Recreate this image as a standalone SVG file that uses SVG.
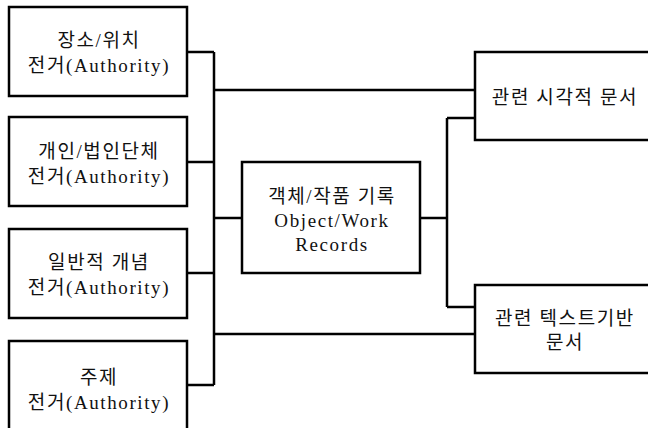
<svg xmlns="http://www.w3.org/2000/svg" width="648" height="428" viewBox="0 0 648 428">
<style>
.box{fill:#fff;stroke:#000;stroke-width:2.5}
.ln{fill:none;stroke:#000;stroke-width:2.5}
text{font-family:"Liberation Serif","Noto Sans CJK KR",serif;font-size:19px;fill:#111;text-anchor:middle;letter-spacing:1.6px}
</style>
<rect width="648" height="428" fill="#fff"/>
<g id="connectors">
<path class="ln" d="M187,52 H214 M187,162 H214 M187,273 H214 M187,385 H214 M214,52 V385"/>
<path class="ln" d="M214,90 H475 M214,334 H475"/>
<path class="ln" d="M214,218 H242 M420,218 H447 M447,118 V307 M447,118 H475 M447,307 H475"/>
</g>
<g id="n1"><rect class="box" x="9" y="7" width="178" height="89"/>
<text x="99" y="47">장소/위치</text><text x="99" y="72">전거(Authority)</text></g>
<g id="n2"><rect class="box" x="9" y="117" width="178" height="89"/>
<text x="99" y="158">개인/법인단체</text><text x="99" y="183">전거(Authority)</text></g>
<g id="n3"><rect class="box" x="9" y="229" width="178" height="89"/>
<text x="99" y="269">일반적 개념</text><text x="99" y="294">전거(Authority)</text></g>
<g id="n4"><rect class="box" x="9" y="341" width="178" height="95"/>
<text x="99" y="384">주제</text><text x="99" y="409">전거(Authority)</text></g>
<g id="center"><rect class="box" x="242" y="162" width="178" height="111"/>
<text x="332" y="203">객체/작품 기록</text><text x="332" y="227">Object/Work</text><text x="332" y="251">Records</text></g>
<g id="r1"><rect class="box" x="475" y="52" width="180" height="88"/>
<text x="565" y="104">관련 시각적 문서</text></g>
<g id="r2"><rect class="box" x="475" y="285" width="180" height="88"/>
<text x="565" y="325">관련 텍스트기반</text><text x="565" y="349">문서</text></g>
</svg>
